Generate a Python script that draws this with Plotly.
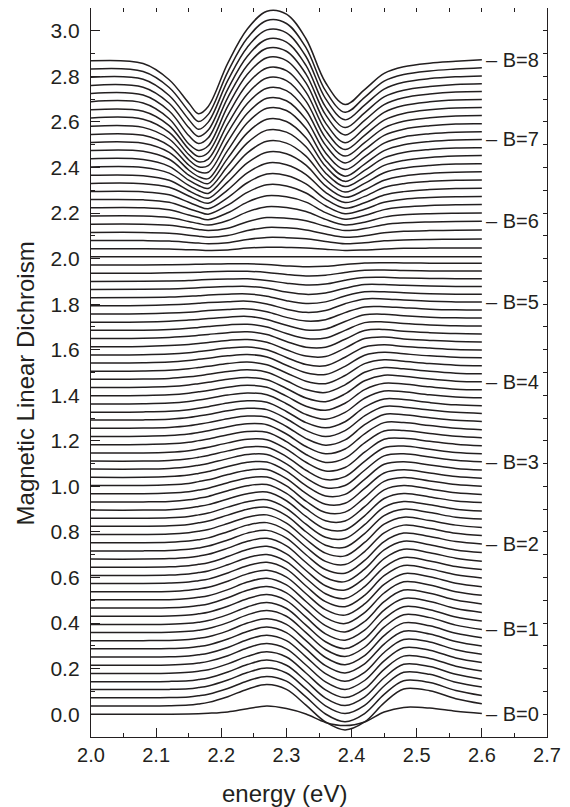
import plotly.graph_objects as go

# energy samples (eV) at which every curve was read
energy = [2.00, 2.08, 2.12, 2.15, 2.165, 2.18, 2.21, 2.24, 2.27, 2.30, 2.33, 2.36, 2.39, 2.42, 2.45, 2.48, 2.52, 2.56, 2.60]

# magnetic field of each curve (T)
field_B = [0.0, 0.1, 0.2, 0.3, 0.4, 0.5, 0.6, 0.7, 0.8, 0.9,
           1.0, 1.1, 1.2, 1.3, 1.4, 1.5, 1.6, 1.7, 1.8, 1.9,
           2.0, 2.1, 2.2, 2.3, 2.4, 2.5, 2.6, 2.7, 2.8, 2.9,
           3.0, 3.1, 3.2, 3.3, 3.4, 3.5, 3.6, 3.7, 3.8, 3.9,
           4.0, 4.1, 4.2, 4.3, 4.4, 4.5, 4.6, 4.7, 4.8, 4.9,
           5.0, 5.1, 5.2, 5.3, 5.4, 5.5, 5.6, 5.7, 5.8, 5.9,
           6.0, 6.1, 6.2, 6.3, 6.4, 6.5, 6.6, 6.7, 6.8, 6.9,
           7.0, 7.1, 7.2, 7.3, 7.4, 7.5, 7.6, 7.7, 7.8, 7.9, 8.0]

# vertical offset of each curve (baseline at 2.0 eV)
offsets = [0.000, 0.036, 0.072, 0.108, 0.143, 0.179, 0.215, 0.251, 0.287, 0.323,
           0.359, 0.394, 0.430, 0.466, 0.502, 0.538, 0.574, 0.609, 0.645, 0.681,
           0.717, 0.753, 0.789, 0.825, 0.860, 0.896, 0.932, 0.968, 1.004, 1.040,
           1.076, 1.111, 1.147, 1.183, 1.219, 1.255, 1.291, 1.326, 1.362, 1.398,
           1.434, 1.470, 1.506, 1.542, 1.577, 1.613, 1.649, 1.685, 1.721, 1.757,
           1.793, 1.828, 1.864, 1.900, 1.936, 1.972, 2.008, 2.043, 2.079, 2.115,
           2.151, 2.187, 2.223, 2.259, 2.294, 2.330, 2.366, 2.402, 2.438, 2.474,
           2.510, 2.545, 2.581, 2.617, 2.653, 2.689, 2.725, 2.760, 2.796, 2.832, 2.868]

# dichroism signal of each curve relative to its offset, at the energies above
signal = [
    [0, 0, 0, .001, .002, .004, .010, .024, .036, .025, .001, -.036, -.050, -.034, .010, .030, .027, .013, .003],
    [0, 0, .001, .004, .009, .016, .041, .074, .094, .073, .004, -.070, -.105, -.070, .014, .075, .067, .032, .010],
    [0, 0, .001, .004, .009, .016, .041, .074, .094, .073, .004, -.071, -.105, -.069, .015, .075, .067, .032, .010],
    [0, 0, .001, .004, .009, .016, .042, .075, .095, .073, .003, -.071, -.105, -.069, .016, .076, .067, .032, .011],
    [0, 0, .001, .004, .009, .016, .042, .075, .095, .072, .003, -.072, -.105, -.068, .017, .076, .066, .032, .011],
    [0, 0, .001, .005, .010, .016, .042, .075, .095, .072, .002, -.072, -.106, -.068, .018, .076, .066, .032, .011],
    [0, 0, .001, .005, .010, .017, .042, .076, .095, .072, .001, -.073, -.106, -.067, .019, .077, .066, .032, .012],
    [0, 0, .001, .005, .010, .017, .042, .076, .096, .072, .001, -.073, -.106, -.067, .020, .077, .066, .032, .012],
    [0, 0, .001, .005, .010, .017, .043, .076, .096, .071, .000, -.074, -.106, -.066, .021, .077, .065, .032, .012],
    [0, 0, .001, .005, .010, .017, .043, .077, .096, .071, .000, -.074, -.106, -.066, .022, .078, .065, .032, .013],
    [0, 0, .001, .005, .010, .017, .043, .077, .096, .071, -.001, -.075, -.106, -.065, .023, .078, .065, .032, .013],
    [0, 0, .001, .005, .010, .017, .043, .077, .096, .070, -.003, -.076, -.106, -.063, .025, .078, .065, .033, .015],
    [0, 0, .001, .005, .011, .018, .044, .077, .095, .069, -.004, -.077, -.105, -.061, .027, .078, .065, .034, .017],
    [0, 0, .001, .006, .011, .018, .045, .078, .095, .067, -.006, -.077, -.105, -.059, .028, .079, .065, .035, .018],
    [0, 0, .001, .006, .011, .018, .045, .078, .095, .066, -.007, -.078, -.104, -.056, .030, .079, .065, .036, .020],
    [0, 0, .001, .006, .012, .019, .046, .078, .094, .064, -.009, -.079, -.103, -.054, .032, .079, .065, .037, .022],
    [0, 0, .002, .006, .012, .019, .046, .078, .093, .063, -.011, -.080, -.102, -.052, .034, .079, .064, .038, .024],
    [0, 0, .002, .007, .013, .020, .047, .078, .092, .061, -.012, -.080, -.101, -.049, .036, .079, .064, .039, .026],
    [0, 0, .002, .007, .013, .020, .047, .078, .092, .059, -.014, -.081, -.100, -.047, .038, .079, .064, .040, .027],
    [0, 0, .002, .007, .013, .021, .048, .078, .091, .058, -.015, -.081, -.099, -.044, .040, .078, .063, .040, .029],
    [0, 0, .002, .007, .013, .021, .048, .078, .090, .056, -.017, -.082, -.098, -.042, .041, .078, .063, .041, .030],
    [0, 0, .002, .007, .013, .021, .048, .077, .088, .053, -.019, -.082, -.096, -.039, .043, .077, .062, .041, .031],
    [0, 0, .002, .008, .014, .022, .048, .076, .086, .050, -.021, -.082, -.094, -.035, .045, .076, .061, .041, .031],
    [0, 0, .002, .008, .015, .023, .049, .075, .084, .047, -.024, -.083, -.092, -.032, .047, .075, .060, .040, .032],
    [0, 0, .002, .008, .015, .023, .049, .073, .081, .044, -.026, -.083, -.089, -.028, .049, .074, .059, .040, .032],
    [0, 0, .002, .009, .016, .024, .049, .072, .079, .041, -.028, -.083, -.087, -.025, .051, .073, .058, .040, .033],
    [0, 0, .002, .009, .016, .024, .049, .071, .076, .037, -.030, -.083, -.084, -.021, .053, .072, .057, .040, .033],
    [0, 0, .003, .009, .016, .024, .048, .069, .073, .034, -.033, -.083, -.081, -.017, .054, .071, .056, .040, .033],
    [0, 0, .003, .009, .017, .025, .048, .067, .070, .030, -.035, -.082, -.078, -.013, .055, .069, .055, .039, .032],
    [0, 0, .003, .010, .017, .025, .047, .066, .067, .027, -.037, -.082, -.075, -.009, .057, .068, .054, .039, .032],
    [0, 0, .003, .010, .017, .025, .046, .064, .064, .023, -.039, -.082, -.072, -.005, .058, .067, .053, .039, .032],
    [0, 0, .003, .010, .017, .025, .045, .062, .061, .020, -.040, -.081, -.068, -.001, .059, .066, .052, .038, .032],
    [0, 0, .003, .010, .017, .025, .044, .060, .058, .017, -.041, -.079, -.064, .003, .060, .064, .051, .038, .031],
    [0, .001, .004, .011, .018, .025, .044, .058, .055, .014, -.043, -.078, -.059, .008, .060, .062, .049, .037, .031],
    [0, .001, .004, .011, .018, .025, .043, .056, .052, .011, -.044, -.076, -.055, .012, .061, .061, .048, .036, .030],
    [0, .001, .004, .011, .018, .025, .042, .054, .049, .008, -.045, -.074, -.051, .016, .061, .059, .046, .035, .030],
    [0, .001, .004, .011, .018, .025, .041, .052, .046, .006, -.045, -.072, -.046, .019, .060, .057, .044, .034, .029],
    [0, .001, .004, .011, .017, .024, .040, .050, .043, .003, -.046, -.069, -.042, .022, .058, .055, .042, .032, .028],
    [0, .001, .004, .011, .017, .024, .039, .048, .040, .001, -.046, -.067, -.037, .025, .057, .053, .040, .031, .027],
    [0, .001, .004, .011, .017, .023, .037, .046, .037, -.002, -.046, -.064, -.033, .027, .055, .051, .039, .029, .026],
    [0, .001, .004, .011, .017, .023, .036, .044, .034, -.004, -.046, -.062, -.028, .030, .054, .049, .037, .028, .025],
    [0, .001, .004, .011, .016, .022, .034, .042, .031, -.006, -.045, -.058, -.024, .031, .052, .046, .035, .027, .024],
    [0, .001, .004, .011, .016, .021, .033, .040, .028, -.008, -.044, -.055, -.019, .033, .050, .043, .033, .026, .024],
    [0, .001, .004, .011, .016, .021, .031, .037, .026, -.010, -.043, -.051, -.015, .034, .047, .040, .031, .025, .023],
    [0, .001, .004, .010, .015, .020, .030, .035, .023, -.011, -.042, -.047, -.010, .035, .045, .037, .030, .024, .022],
    [0, .001, .005, .010, .014, .019, .028, .032, .020, -.013, -.041, -.043, -.006, .036, .043, .034, .028, .023, .021],
    [0, .001, .005, .010, .014, .018, .026, .030, .018, -.013, -.038, -.038, -.003, .035, .040, .032, .026, .022, .020],
    [0, .001, .004, .009, .013, .017, .024, .027, .015, -.014, -.036, -.034, .000, .034, .037, .030, .024, .020, .019],
    [0, .001, .004, .009, .012, .016, .022, .025, .012, -.014, -.034, -.030, .003, .032, .035, .028, .022, .019, .018],
    [0, .001, .004, .008, .011, .015, .020, .022, .010, -.015, -.031, -.025, .006, .031, .032, .027, .021, .018, .017],
    [0, .001, .004, .008, .011, .014, .018, .020, .008, -.015, -.029, -.021, .009, .030, .030, .025, .020, .017, .016],
    [0, .001, .003, .007, .009, .012, .016, .017, .007, -.013, -.025, -.018, .008, .026, .026, .022, .018, .016, .015],
    [0, .001, .003, .006, .008, .010, .013, .014, .006, -.011, -.021, -.015, .006, .022, .022, .019, .016, .014, .013],
    [0, .001, .002, .004, .006, .008, .010, .011, .004, -.008, -.016, -.012, .005, .017, .018, .015, .013, .012, .011],
    [0, 0, .002, .003, .004, .006, .008, .008, .003, -.006, -.012, -.009, .003, .013, .014, .012, .010, .010, .010],
    [0, 0, .001, .002, .003, .004, .005, .005, .002, -.004, -.008, -.006, .002, .009, .010, .009, .008, .008, .008],
    [0, 0, 0, 0, 0, 0, 0, 0, 0, 0, 0, 0, 0, 0, 0, 0, 0, 0, 0],
    [0, 0, -.001, -.004, -.005, -.007, -.005, .003, .007, .006, .004, -.002, -.007, -.005, -.001, .002, .003, .003, .004],
    [0, 0, -.002, -.008, -.011, -.014, -.009, .005, .014, .013, .008, -.004, -.014, -.010, -.001, .003, .005, .006, .007],
    [0, 0, -.004, -.012, -.017, -.021, -.014, .008, .022, .020, .011, -.007, -.021, -.015, -.002, .005, .008, .009, .010],
    [0, 0, -.005, -.016, -.023, -.028, -.018, .011, .029, .026, .015, -.009, -.028, -.019, -.002, .006, .010, .012, .013],
    [0, 0, -.007, -.024, -.033, -.040, -.020, .018, .041, .037, .020, -.015, -.039, -.027, -.005, .005, .010, .012, .013],
    [0, 0, -.009, -.032, -.043, -.052, -.022, .025, .053, .048, .025, -.021, -.050, -.034, -.008, .003, .010, .013, .014],
    [0, -.001, -.012, -.040, -.053, -.064, -.024, .032, .065, .060, .029, -.027, -.062, -.042, -.012, .002, .009, .013, .014],
    [0, -.001, -.014, -.047, -.064, -.075, -.026, .039, .077, .071, .034, -.033, -.073, -.049, -.015, .000, .009, .014, .015],
    [0, -.001, -.017, -.055, -.075, -.087, -.028, .046, .089, .082, .039, -.039, -.084, -.057, -.018, -.001, .009, .014, .015],
    [0, -.002, -.022, -.068, -.089, -.101, -.029, .054, .101, .094, .044, -.047, -.097, -.065, -.022, -.003, .008, .013, .015],
    [0, -.002, -.027, -.081, -.103, -.116, -.031, .062, .113, .105, .048, -.054, -.110, -.072, -.025, -.005, .007, .013, .014],
    [0, -.003, -.033, -.094, -.117, -.130, -.032, .070, .126, .117, .053, -.062, -.122, -.080, -.029, -.007, .006, .012, .014],
    [0, -.003, -.038, -.108, -.132, -.145, -.033, .078, .138, .128, .057, -.069, -.135, -.087, -.032, -.008, .005, .012, .013],
    [0, -.004, -.044, -.121, -.150, -.159, -.034, .086, .150, .140, .062, -.077, -.148, -.095, -.036, -.010, .004, .011, .013],
    [0, -.004, -.050, -.134, -.163, -.166, -.031, .093, .159, .148, .066, -.080, -.154, -.099, -.038, -.011, .003, .010, .012],
    [0, -.005, -.056, -.147, -.178, -.173, -.028, .100, .167, .156, .070, -.083, -.161, -.103, -.040, -.013, .002, .010, .011],
    [0, -.005, -.063, -.160, -.192, -.180, -.026, .106, .176, .164, .074, -.087, -.167, -.108, -.043, -.014, .001, .009, .011],
    [0, -.006, -.069, -.172, -.205, -.187, -.023, .113, .184, .172, .078, -.090, -.174, -.112, -.045, -.016, .000, .008, .010],
    [0, -.006, -.075, -.185, -.214, -.194, -.020, .120, .193, .180, .082, -.093, -.180, -.116, -.047, -.017, -.001, .007, .009],
    [0, -.007, -.077, -.185, -.220, -.195, -.018, .124, .198, .185, .085, -.093, -.182, -.118, -.049, -.019, -.003, .006, .008],
    [0, -.008, -.078, -.185, -.224, -.196, -.016, .128, .203, .190, .088, -.094, -.185, -.120, -.050, -.021, -.005, .004, .007],
    [0, -.009, -.080, -.185, -.228, -.197, -.014, .132, .208, .195, .091, -.094, -.187, -.122, -.052, -.022, -.006, .002, .006],
    [0, -.011, -.081, -.185, -.230, -.199, -.012, .136, .213, .200, .094, -.095, -.190, -.124, -.053, -.024, -.008, .000, .006],
    [0, -.012, -.083, -.185, -.232, -.200, -.010, .140, .218, .205, .097, -.095, -.192, -.126, -.055, -.026, -.010, -.002, .005],
]

# field values that carry a label at the right end of their curve
labelled_B = [0, 1, 2, 3, 4, 5, 6, 7, 8]

FONT = "Arial, Liberation Sans, sans-serif"
INK = "#231f20"

fig = go.Figure()
for b, off, row in zip(field_B, offsets, signal):
    fig.add_trace(go.Scatter(
        x=energy, y=[off + s for s in row], mode="lines",
        line=dict(color=INK, width=1.5, shape="spline", smoothing=1.0),
        name="B=%.1f" % b, showlegend=False, hoverinfo="skip"))

# invisible trace carrying the mirrored top / right tick axes
fig.add_trace(go.Scatter(x=[2.0], y=[0.0], xaxis="x2", yaxis="y2", mode="markers",
                         marker=dict(opacity=0), showlegend=False, hoverinfo="skip"))

annotations = []
for b in labelled_B:
    i = field_B.index(float(b))
    annotations.append(dict(x=energy[-1], y=offsets[i] + signal[i][-1], xref="x", yref="y",
                            text="\u2013 B=%d" % b, showarrow=False, xanchor="left",
                            yanchor="middle", xshift=2,
                            font=dict(family=FONT, size=20, color=INK)))
annotations.append(dict(x=0.425, y=0, xref="paper", yref="paper", yshift=-56,
                        text="energy (eV)", showarrow=False, xanchor="center", yanchor="middle",
                        font=dict(family=FONT, size=24, color=INK)))
annotations.append(dict(x=0, y=0.485, xref="paper", yref="paper", xshift=-66,
                        text="Magnetic Linear Dichroism", showarrow=False, textangle=-90,
                        xanchor="center", yanchor="middle",
                        font=dict(family=FONT, size=24, color=INK)))

axis_common = dict(showgrid=False, zeroline=False, showline=True, linecolor=INK,
                   linewidth=1.3, mirror=True, ticks="inside", tickcolor=INK,
                   tickwidth=1.3, ticklen=9, tickformat=".1f")

fig.update_layout(
    width=570, height=807,
    margin=dict(l=83, r=31, t=0, b=78),
    paper_bgcolor="white", plot_bgcolor="white",
    xaxis=dict(range=[2.0, 2.7], dtick=0.1, tick0=2.0,
               tickfont=dict(family=FONT, size=20, color=INK),
               minor=dict(dtick=0.05, ticks="inside", ticklen=4, tickcolor=INK, tickwidth=1.2),
               **axis_common),
    yaxis=dict(range=[-0.1, 3.1], dtick=0.2, tick0=0.0, ticklabelstandoff=6,
               tickfont=dict(family=FONT, size=21, color=INK),
               minor=dict(dtick=0.1, ticks="inside", ticklen=4, tickcolor=INK, tickwidth=1.2),
               **axis_common),
    xaxis2=dict(overlaying="x", side="top", range=[2.0, 2.7], dtick=0.05, tick0=2.0,
                ticks="inside", ticklen=4, tickwidth=1.2, tickcolor=INK,
                showticklabels=False, showgrid=False, zeroline=False, showline=False),
    yaxis2=dict(overlaying="y", side="right", range=[-0.1, 3.1], dtick=0.1, tick0=0.0,
                ticks="inside", ticklen=4, tickwidth=1.2, tickcolor=INK,
                showticklabels=False, showgrid=False, zeroline=False, showline=False),
    annotations=annotations,
)

fig.write_html("out.html")
